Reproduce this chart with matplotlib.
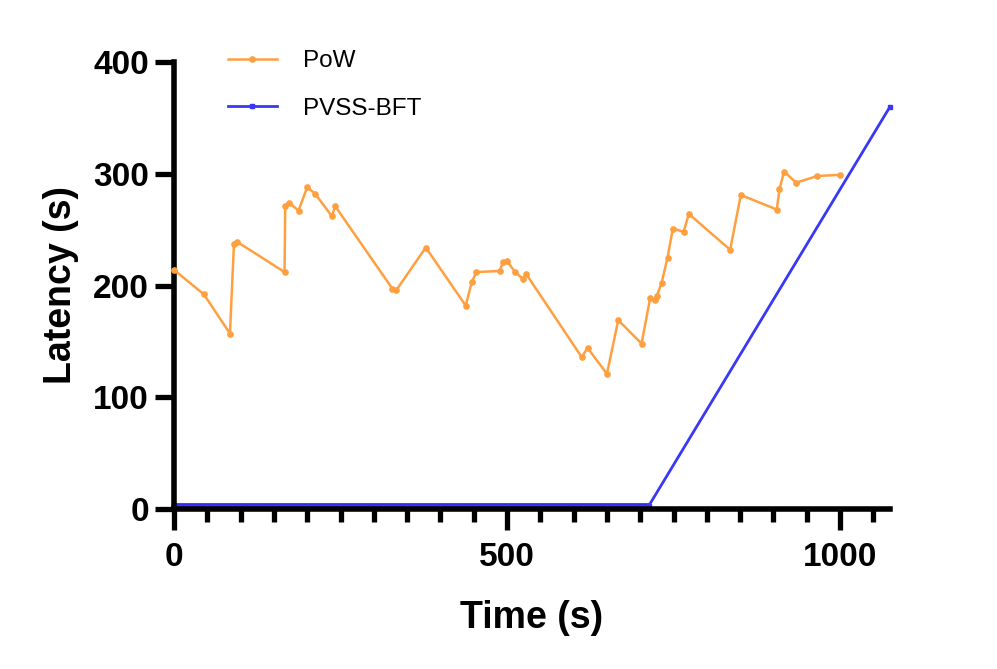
import matplotlib
matplotlib.use("Agg")
import matplotlib.pyplot as plt
from matplotlib.ticker import MultipleLocator

plt.rcParams['font.family'] = ['Liberation Sans', 'DejaVu Sans']

# PoW series (time s, latency s)
pow_time = [0, 45, 84, 90, 95, 166, 167, 173, 187, 200, 212, 237, 242, 328, 334,
            378, 438, 447, 454, 489, 494, 500, 512, 524, 529, 612, 621, 650, 667,
            702, 715, 722, 725, 732, 741, 749, 765, 773, 835, 851, 905, 909, 916,
            934, 966, 1000]
pow_latency = [214, 192, 157, 237, 239, 212, 271, 274, 267, 288, 282, 262, 271, 197, 196,
               234, 182, 203, 212, 213, 221, 222, 212, 206, 210, 136, 144, 121, 169,
               148, 189, 187, 191, 202, 225, 251, 248, 264, 232, 281, 268, 286, 302,
               292, 298, 299]

# PVSS-BFT series
pvss_time = [0, 713, 1075]
pvss_latency = [3, 3, 360]

x_major = [0, 500, 1000]
y_major = [0, 100, 200, 300, 400]

fig = plt.figure(figsize=(9.97, 6.69), dpi=100)
ax = fig.add_axes([174/997, 1-509/669, (890-174)/997, (509-62)/669])

ax.plot(pow_time, pow_latency, color='#FFA040', lw=1.8, marker='o', markersize=3.8,
        label='PoW', clip_on=False, zorder=3)
ax.plot(pvss_time[:2], pvss_latency[:2], color='#1010F0', lw=4.0, solid_capstyle='butt',
        clip_on=False, zorder=2)
ax.plot(pvss_time, pvss_latency, color='#3838F5', lw=2.0, marker='s', markersize=3.5,
        label='PVSS-BFT', clip_on=False, zorder=2)

ax.set_xlim(0, 1075)
ax.set_ylim(0, 400)
ax.set_xticks(x_major)
ax.set_yticks(y_major)
ax.xaxis.set_minor_locator(MultipleLocator(50))

for s in ['top', 'right']:
    ax.spines[s].set_visible(False)
for s in ['left', 'bottom']:
    ax.spines[s].set_linewidth(4)
    ax.spines[s].set_capstyle('projecting')

ax.tick_params(axis='x', which='major', length=15, width=3.8, direction='out', pad=9)
ax.tick_params(axis='x', which='minor', length=9, width=3.8, direction='out')
ax.tick_params(axis='y', which='major', length=14, width=3.8, direction='out', pad=4)
for lbl in ax.get_xticklabels() + ax.get_yticklabels():
    lbl.set_fontsize(24)
    lbl.set_fontweight('bold')

ax.set_xlabel('Time (s)', fontsize=27, fontweight='bold', labelpad=19)
ax.set_ylabel('Latency (s)', fontsize=27, fontweight='bold', labelpad=10)

leg = ax.legend(loc='upper left', bbox_to_anchor=(228/997, 1-50/669),
                bbox_transform=fig.transFigure, frameon=False, fontsize=17.5,
                handlelength=2.0, handletextpad=1.1, labelspacing=1.05,
                borderpad=0, borderaxespad=0, numpoints=1)

fig.savefig('out.png', dpi=100)
